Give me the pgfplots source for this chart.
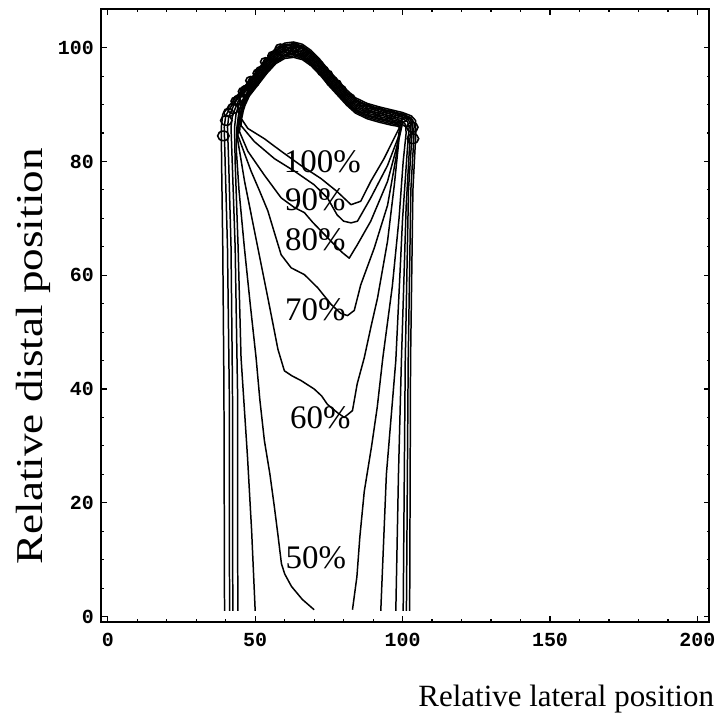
\documentclass[border=0pt]{standalone}
\usepackage{fontspec}
\setmainfont{Liberation Serif}
\setmonofont{Liberation Mono}
\usepackage{graphicx}
\usepackage{pgfplots}
\pgfplotsset{compat=1.18}
\begin{document}
\begin{tikzpicture}
\begin{axis}[
  scale only axis, width=305bp, height=307bp,
  xmin=-2.37, xmax=204.1, ymin=-0.9, ymax=106.8,
  xtick={0,50,...,200}, ytick={0,20,...,100},
  minor x tick num=4, minor y tick num=3,
  axis line style={line width=1bp},
  major tick length=3bp, minor tick length=1.5bp,
  tick style={line width=0.6bp, black},
  ticklabel style={font=\ttfamily\bfseries\fontsize{10bp}{10bp}\selectfont},
  xticklabel style={yshift=-2bp},
  /pgf/number format/assume math mode=true,
  clip=false,
]
% outer contours (open at the bottom edge)
\addplot[black, line width=0.75bp, line join=round] coordinates {
(39.6,1) (39.4,40) (39,65) (38.6,80) (38.5,86) (39,88.3) (40.5,89.3) (42.3,90.5) (45,92.3) (48,94.2) (51,96.2) (54,98.2) (57,99.9) (60,100.8) (63,101) (66,100.6) (69,99.5) (72,97.9) (75,96) (78,94.3) (81,92.6) (84,91.2) (88,90.2) (92,89.6) (96,89.1) (100,88.6) (103,88) (104.4,87.2) (104.5,85) (103.5,75) (102.7,45) (102.4,1)};
\addplot[black, line width=0.75bp, line join=round] coordinates {
(41.3,1) (41.2,40) (40.6,65) (39.8,80) (39.5,86) (40,88) (41.2,89.2) (42.6,90.2) (45,92.0) (48,93.9) (51,95.9) (54,97.9) (57,99.6) (60,100.5) (63,100.7) (66,100.3) (69,99.2) (72,97.6) (75,95.7) (78,94.0) (81,92.3) (84,90.9) (88,89.9) (92,89.3) (96,88.8) (100,88.3) (102.8,87.7) (103.9,86.8) (103.8,84) (102.8,75) (101.9,45) (101.3,1)};
\addplot[black, line width=0.75bp, line join=round] coordinates {
(42.4,1) (42.3,40) (41.8,65) (41,80) (40.6,86) (41,87.8) (42,89) (43,90.2) (45,91.8) (48,93.7) (51,95.7) (54,97.7) (57,99.4) (60,100.3) (63,100.5) (66,100.1) (69,99.0) (72,97.4) (75,95.5) (78,93.8) (81,92.1) (84,90.7) (88,89.7) (92,89.1) (96,88.6) (100,88.1) (102.4,87.5) (103.3,86.6) (103.1,84) (102,75) (100.9,45) (100.2,1)};
\addplot[black, line width=0.75bp, line join=round] coordinates {
(44.1,1) (44,40) (43.2,65) (42.2,80) (41.8,86) (42.2,87.8) (43.2,89.3) (45,91.5) (48,93.4) (51,95.4) (54,97.4) (57,99.1) (60,100.0) (63,100.2) (66,99.8) (69,98.7) (72,97.1) (75,95.2) (78,93.5) (81,91.8) (84,90.4) (88,89.4) (92,88.8) (96,88.3) (100,87.8) (102,87.3) (102.8,86.4) (102.5,84) (101.2,72) (99.6,45) (98.6,25) (97.7,1)};
\addplot[black, line width=0.75bp, line join=round] coordinates {
(50,1) (48.8,15) (47.4,28) (45.2,45.5) (44.2,65) (43.2,80) (43,86) (43.5,88.3) (45,91.2) (48,93.1) (51,95.1) (54,97.1) (57,98.8) (60,99.7) (63,99.9) (66,99.5) (69,98.4) (72,96.8) (75,94.9) (78,93.2) (81,91.5) (84,90.1) (88,89.1) (92,88.5) (96,88.0) (100,87.5) (101.7,87) (102.2,86) (101.6,82) (100,70) (97.7,45) (94.5,25) (92.6,1)};
% 50%
\addplot[black, line width=0.75bp, line join=round] coordinates {
(70,1.2) (66,3) (62.3,5.3) (60,7.5) (58.9,9.3) (57.8,14) (56.5,19.3) (55,25) (53.1,31) (51.6,38) (50.3,45.5) (48.3,55) (46.3,65) (44.5,75) (43.6,82) (43.8,86) (44.5,88.8) (45.5,90.6) (48,92.8) (51,94.8) (54,96.8) (57,98.5) (60,99.4) (63,99.6) (66,99.2) (69,98.1) (72,96.5) (75,94.6) (78,92.9) (81,91.2) (84,89.8) (88,88.8) (92,88.2) (96,87.7) (99.5,87.2) (101,86.5) (101.2,85) (100.2,80) (98.8,70) (96.5,58) (93.3,45.5) (91.4,36.8) (89.5,30) (87,22) (85.5,14) (84.5,7) (83,1.2)};
% 60%
\addplot[black, line width=0.75bp, line join=round] coordinates {
(44.2,86.5) (44,84) (46.4,76.5) (50.9,64.8) (54.3,56) (56.2,51) (57.7,47) (59.9,43.2) (62.5,42.3) (65.5,41.5) (70,40) (72.5,38.8) (74.5,37.3) (78,35.8) (80.2,35) (83,36.2) (84.6,40.9) (87,45.5) (89.3,51) (91.5,56) (94.9,66) (97.2,75.9) (98.8,84) (99.8,86.3) (99,87.0) (96,87.4) (92,87.9) (88,88.5) (84,89.5) (81,90.9) (78,92.6) (75,94.3) (72,96.2) (69,97.8) (66,98.9) (63,99.3) (60,99.1) (57,98.2) (54,96.5) (51,94.5) (48,92.5) (45.5,90.3) (44.6,88.8) (44.2,86.5)};
% 70%
\addplot[black, line width=0.75bp, line join=round] coordinates {
(44.6,86.8) (44.1,84.6) (48.6,78.3) (51.5,74.8) (54.3,71.3) (56.8,67) (58.8,63.6) (62.2,61.3) (66.7,60.1) (71.2,57.8) (75.7,54.9) (79,53.3) (81.3,52.9) (83.6,53.8) (85.8,58.3) (90.4,64.8) (94.9,72.3) (97.7,80.5) (98.8,85.2) (99.6,86.2) (98.8,86.8) (96,87.1) (92,87.6) (88,88.2) (84,89.2) (81,90.6) (78,92.3) (75,94) (72,95.9) (69,97.5) (66,98.6) (63,99) (60,98.8) (57,97.9) (54,96.2) (51,94.2) (48,92.2) (45.8,90.1) (45,88.6) (44.6,86.8)};
% 80%
\addplot[black, line width=0.75bp, line join=round] coordinates {
(45,87) (44.7,85.2) (47.5,81.8) (53.1,77.6) (58.8,73.6) (63.3,71.9) (66.7,71) (69.5,69.3) (72.3,67.8) (76.8,65.4) (79.5,64) (81.9,63) (84.7,65.4) (89.2,69.5) (94.9,76.5) (98.2,82.9) (99.4,85.8) (98.6,86.6) (96,86.9) (92,87.4) (88,88) (84,89) (81,90.4) (78,92.1) (75,93.8) (72,95.7) (69,97.3) (66,98.4) (63,98.8) (60,98.6) (57,97.7) (54,96) (51,94) (48,92) (46,90) (45.3,88.5) (45,87)};
% 90%
\addplot[black, line width=0.75bp, line join=round] coordinates {
(45.4,87.5) (45.2,86.3) (49.7,83.5) (56.5,80.5) (63.3,78.3) (70,75.9) (74.5,73.6) (77.8,70.6) (80,69.5) (82.5,69.2) (84.7,69.5) (89.2,73.6) (94.9,79.3) (98.8,84.6) (99.3,85.8) (98.4,86.4) (96,86.65) (92,87.15) (88,87.75) (84,88.75) (81,90.15) (78,91.85) (75,93.55) (72,95.45) (69,97.05) (66,98.15) (63,98.55) (60,98.35) (57,97.45) (54,95.75) (51,93.75) (48,91.75) (46.3,90) (45.7,88.6) (45.4,87.5)};
% 100%
\addplot[black, line width=0.75bp, line join=round] coordinates {
(45.6,88) (45.2,87.6) (47.5,85.8) (53.1,84) (58.8,81.8) (65.5,79.3) (72.3,77) (77.8,74.7) (82.5,72.4) (85.8,73) (89.2,76.5) (93.7,80.5) (98.2,85.2) (99,86) (98.2,86.2) (96,86.4) (92,86.9) (88,87.5) (84,88.5) (81,89.9) (78,91.6) (75,93.3) (72,95.2) (69,96.8) (66,97.9) (63,98.3) (60,98.1) (57,97.2) (54,95.5) (51,93.5) (48,91.5) (46.5,89.8) (45.9,88.8) (45.6,88)};
% small contour loops along the steep upper edge
\addplot[black, only marks, mark=o, mark size=2.4bp, mark options={line width=0.8bp, xscale=1.2}] coordinates {
(39.2,84.5) (40.2,87.2) (42.5,89.3) (44.5,90.8) (47,92.5) (49.5,94) (52,95.8) (54.5,97.3) (57,98.5) (59.5,99.4) (62,99.7) (64.5,99.4) (67,98.8) (70,97.6) (73,95.9) (76,94.1) (79,92.5) (82,91) (86,89.4) (90,88.7) (94,88.2) (98,87.7) (101.5,87) (103.3,86) (103.5,84)};
\addplot[black, only marks, mark=o, mark size=2.1bp, mark options={line width=0.8bp, xscale=1.2}] coordinates {
(41,88.6) (43.5,90.6) (46,92.3) (48.5,94.2) (51,95.5) (53.5,97.5) (56,98.6) (58.5,99.9) (61,99.8) (63.5,100) (66,99.3) (68.5,98.4) (71.5,96.9) (74.5,95.3) (77.5,93.6) (84,89.9) (88,89.3) (92,88.7) (96,88.2) (100,87.6)};
% contour level labels
\node[font=\fontsize{16.5bp}{17bp}\selectfont] at (axis cs:72.8,80.0) {100\%};
\node[font=\fontsize{16.5bp}{17bp}\selectfont] at (axis cs:70.4,73.3) {90\%};
\node[font=\fontsize{16.5bp}{17bp}\selectfont] at (axis cs:70.4,66.3) {80\%};
\node[font=\fontsize{16.5bp}{17bp}\selectfont] at (axis cs:70.4,54.0) {70\%};
\node[font=\fontsize{16.5bp}{17bp}\selectfont] at (axis cs:72.1,34.9) {60\%};
\node[font=\fontsize{16.5bp}{17bp}\selectfont] at (axis cs:70.6,10.4) {50\%};
% axis titles
\node[font=\fontsize{15.5bp}{16bp}\selectfont, anchor=base east, inner sep=0pt] at (rel axis cs:1.008,-0.138) {Relative lateral position};
\node[font=\fontsize{19bp}{20bp}\selectfont, rotate=90, anchor=center, inner sep=0pt] at (rel axis cs:-0.111,0.433) {\scalebox{1.19}[1]{Relative distal position}};
\path (rel axis cs:-0.1656,-0.1612) rectangle (rel axis cs:1.0098,1.01466);
\end{axis}
\end{tikzpicture}
\end{document}
